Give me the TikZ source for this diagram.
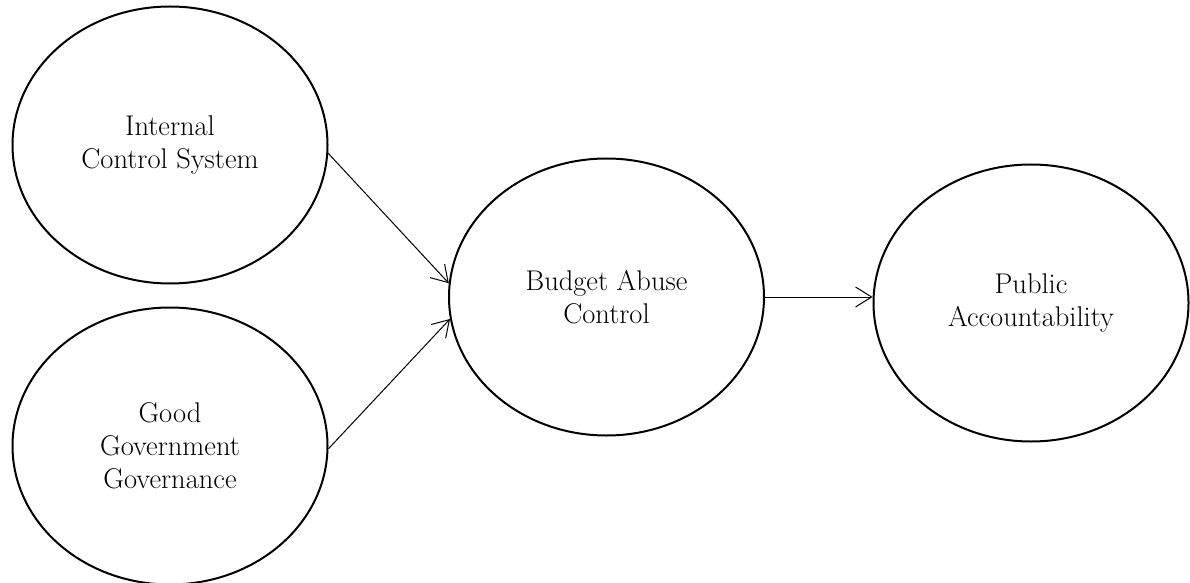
\documentclass[tikz,border=0pt]{standalone}
\usetikzlibrary{shapes.geometric,arrows.meta}
\begin{document}
\begin{tikzpicture}[x=1pt,y=1pt,
  construct/.style={draw, ellipse, line width=2pt, minimum width=315pt, minimum height=277pt,
    inner sep=0pt, align=center, font=\fontsize{28.5}{33}\selectfont},
  link/.style={line width=1pt, -{Straight Barb[length=16pt,width=20pt,line width=1pt]}}]
\useasboundingbox (0,0) rectangle (1190,582);
\node[construct] (ics) at (170,437) {Internal\\Control System};
\node[construct] (ggg) at (170,136) {Good\\Government\\Governance};
\node[construct] (bac) at (606.5,285) {Budget Abuse\\Control};
\node[construct] (pa) at (1031,279) {Public\\Accountability};
\draw[link] (ics.-3.7) -- (bac.175.2);
\draw[link] (ggg.-1.2) -- (bac.188.1);
\draw[link] (bac.east) -- (bac.east -| pa.west);
\end{tikzpicture}
\end{document}
